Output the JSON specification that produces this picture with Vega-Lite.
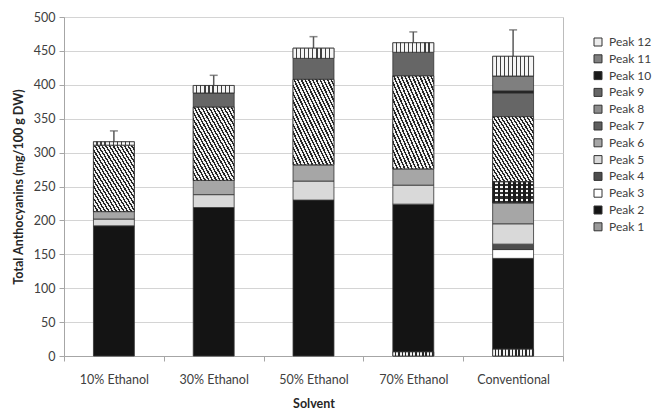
{
  "$schema": "https://vega.github.io/schema/vega-lite/v6.json",
  "width": 499,
  "height": 339,
  "autosize": {"type": "none"},
  "padding": {"left": 64, "top": 17, "right": 91, "bottom": 58},
  "background": "white",
  "config": {
    "font": "Lato",
    "view": {"stroke": "#bcbcbc", "strokeWidth": 1},
    "axis": {
      "labelFont": "Lato",
      "labelFontSize": 12.5,
      "labelColor": "#404040",
      "titleFont": "Lato",
      "titleFontSize": 12.5,
      "titleFontWeight": "bold",
      "titleColor": "#262626",
      "domainColor": "#a6a6a6",
      "tickColor": "#a6a6a6",
      "tickSize": 5
    },
    "axisY": {
      "labelOverlap": false,
      "grid": true,
      "gridColor": "#d4d4d4",
      "labelPadding": 4,
      "titlePadding": 8,
      "tickCount": 20
    },
    "legend": {
      "orient": "none",
      "legendX": 528,
      "legendY": 19,
      "padding": 0,
      "symbolType": "square",
      "symbolSize": 64,
      "symbolStrokeColor": "#333333",
      "symbolStrokeWidth": 1,
      "symbolOpacity": 1,
      "labelFont": "Lato",
      "labelFontSize": 12,
      "labelColor": "#404040",
      "labelOffset": 5,
      "rowPadding": 4.8
    }
  },
  "datasets": {
    "segments": [
      {"solvent": "10% Ethanol", "peak": 2, "value": 192},
      {"solvent": "10% Ethanol", "peak": 5, "value": 10},
      {"solvent": "10% Ethanol", "peak": 6, "value": 11},
      {"solvent": "10% Ethanol", "peak": 8, "value": 98},
      {"solvent": "10% Ethanol", "peak": 12, "value": 5},
      {"solvent": "30% Ethanol", "peak": 2, "value": 219},
      {"solvent": "30% Ethanol", "peak": 5, "value": 19},
      {"solvent": "30% Ethanol", "peak": 6, "value": 21},
      {"solvent": "30% Ethanol", "peak": 8, "value": 108},
      {"solvent": "30% Ethanol", "peak": 9, "value": 21},
      {"solvent": "30% Ethanol", "peak": 12, "value": 11},
      {"solvent": "50% Ethanol", "peak": 2, "value": 230},
      {"solvent": "50% Ethanol", "peak": 5, "value": 28},
      {"solvent": "50% Ethanol", "peak": 6, "value": 24},
      {"solvent": "50% Ethanol", "peak": 8, "value": 126},
      {"solvent": "50% Ethanol", "peak": 9, "value": 31},
      {"solvent": "50% Ethanol", "peak": 12, "value": 15},
      {"solvent": "70% Ethanol", "peak": 1, "value": 6},
      {"solvent": "70% Ethanol", "peak": 2, "value": 218},
      {"solvent": "70% Ethanol", "peak": 5, "value": 28},
      {"solvent": "70% Ethanol", "peak": 6, "value": 24},
      {"solvent": "70% Ethanol", "peak": 8, "value": 137},
      {"solvent": "70% Ethanol", "peak": 9, "value": 35},
      {"solvent": "70% Ethanol", "peak": 12, "value": 14},
      {"solvent": "Conventional", "peak": 1, "value": 10},
      {"solvent": "Conventional", "peak": 2, "value": 134},
      {"solvent": "Conventional", "peak": 3, "value": 13},
      {"solvent": "Conventional", "peak": 4, "value": 8},
      {"solvent": "Conventional", "peak": 5, "value": 30},
      {"solvent": "Conventional", "peak": 6, "value": 31},
      {"solvent": "Conventional", "peak": 7, "value": 31},
      {"solvent": "Conventional", "peak": 8, "value": 96},
      {"solvent": "Conventional", "peak": 9, "value": 35},
      {"solvent": "Conventional", "peak": 10, "value": 3},
      {"solvent": "Conventional", "peak": 11, "value": 22},
      {"solvent": "Conventional", "peak": 12, "value": 29}
    ],
    "errors": [
      {"solvent": "10% Ethanol", "total": 316, "upper": 332},
      {"solvent": "30% Ethanol", "total": 399, "upper": 414},
      {"solvent": "50% Ethanol", "total": 454, "upper": 471},
      {"solvent": "70% Ethanol", "total": 462, "upper": 478},
      {"solvent": "Conventional", "total": 442, "upper": 481}
    ]
  },
  "encoding": {
    "x": {
      "field": "solvent",
      "type": "nominal",
      "sort": ["10% Ethanol", "30% Ethanol", "50% Ethanol", "70% Ethanol", "Conventional"],
      "scale": {"paddingInner": 0, "paddingOuter": 0},
      "axis": {
        "title": "Solvent",
        "labelAngle": 0,
        "tickBand": "extent",
        "grid": false,
        "labelPadding": 12,
        "titlePadding": 12
      }
    }
  },
  "layer": [
    {
      "data": {"name": "errors"},
      "mark": {"type": "rule", "color": "#595959", "strokeWidth": 1.5},
      "encoding": {
        "y": {
          "field": "total",
          "type": "quantitative",
          "title": "Total Anthocyanins (mg/100 g DW)",
          "scale": {"domain": [0, 500], "nice": false},
          "axis": {"values": [0, 50, 100, 150, 200, 250, 300, 350, 400, 450, 500], "tickCount": 20}
        },
        "y2": {"field": "upper"}
      }
    },
    {
      "data": {"name": "errors"},
      "mark": {"type": "tick", "color": "#595959", "thickness": 1.5, "size": 8},
      "encoding": {
        "y": {
          "field": "upper",
          "type": "quantitative",
          "title": "Total Anthocyanins (mg/100 g DW)",
          "axis": {"values": [0, 50, 100, 150, 200, 250, 300, 350, 400, 450, 500], "tickCount": 20}
        }
      }
    },
    {
      "data": {"name": "segments"},
      "transform": [
        {
          "stack": "value",
          "groupby": ["solvent"],
          "sort": [{"field": "peak", "order": "ascending"}],
          "as": ["y0", "y1"]
        }
      ],
      "layer": [
        {
          "mark": {"type": "bar", "width": {"band": 0.41}, "stroke": "#333333", "strokeWidth": 0.8},
          "encoding": {
            "y": {
              "field": "y1",
              "type": "quantitative",
              "title": "Total Anthocyanins (mg/100 g DW)",
              "scale": {"domain": [0, 500], "nice": false},
              "axis": {"values": [0, 50, 100, 150, 200, 250, 300, 350, 400, 450, 500], "tickCount": 20}
            },
            "y2": {"field": "y0"},
            "color": {
              "field": "peak",
              "type": "ordinal",
              "scale": {
                "domain": [12, 11, 10, 9, 8, 7, 6, 5, 4, 3, 2, 1],
                "range": ["#ececec", "#7f7f7f", "#1a1a1a", "#666666", "#8c8c8c", "#5e5e5e", "#a6a6a6", "#d9d9d9", "#4d4d4d", "#ffffff", "#141414", "#9a9a9a"]
              },
              "legend": {"title": null, "labelExpr": "'Peak ' + datum.label"}
            }
          }
        },
        {
          "transform": [{"filter": "datum.peak === 8"}],
          "mark": {
            "type": "bar",
            "width": {"band": 0.41},
            "stroke": "#333333",
            "strokeWidth": 0.8,
            "fill": {
              "gradient": "linear",
              "x1": 0, "y1": 1, "x2": 1, "y2": 0,
              "stops": [
                {"offset": 0, "color": "#262626"}, {"offset": 0.02, "color": "#262626"}, {"offset": 0.02, "color": "#f2f2f2"}, {"offset": 0.0455, "color": "#f2f2f2"},
                {"offset": 0.0455, "color": "#262626"}, {"offset": 0.0655, "color": "#262626"}, {"offset": 0.0655, "color": "#f2f2f2"}, {"offset": 0.0909, "color": "#f2f2f2"},
                {"offset": 0.0909, "color": "#262626"}, {"offset": 0.1109, "color": "#262626"}, {"offset": 0.1109, "color": "#f2f2f2"}, {"offset": 0.1364, "color": "#f2f2f2"},
                {"offset": 0.1364, "color": "#262626"}, {"offset": 0.1564, "color": "#262626"}, {"offset": 0.1564, "color": "#f2f2f2"}, {"offset": 0.1818, "color": "#f2f2f2"},
                {"offset": 0.1818, "color": "#262626"}, {"offset": 0.2018, "color": "#262626"}, {"offset": 0.2018, "color": "#f2f2f2"}, {"offset": 0.2273, "color": "#f2f2f2"},
                {"offset": 0.2273, "color": "#262626"}, {"offset": 0.2473, "color": "#262626"}, {"offset": 0.2473, "color": "#f2f2f2"}, {"offset": 0.2727, "color": "#f2f2f2"},
                {"offset": 0.2727, "color": "#262626"}, {"offset": 0.2927, "color": "#262626"}, {"offset": 0.2927, "color": "#f2f2f2"}, {"offset": 0.3182, "color": "#f2f2f2"},
                {"offset": 0.3182, "color": "#262626"}, {"offset": 0.3382, "color": "#262626"}, {"offset": 0.3382, "color": "#f2f2f2"}, {"offset": 0.3636, "color": "#f2f2f2"},
                {"offset": 0.3636, "color": "#262626"}, {"offset": 0.3836, "color": "#262626"}, {"offset": 0.3836, "color": "#f2f2f2"}, {"offset": 0.4091, "color": "#f2f2f2"},
                {"offset": 0.4091, "color": "#262626"}, {"offset": 0.4291, "color": "#262626"}, {"offset": 0.4291, "color": "#f2f2f2"}, {"offset": 0.4545, "color": "#f2f2f2"},
                {"offset": 0.4545, "color": "#262626"}, {"offset": 0.4745, "color": "#262626"}, {"offset": 0.4745, "color": "#f2f2f2"}, {"offset": 0.5, "color": "#f2f2f2"},
                {"offset": 0.5, "color": "#262626"}, {"offset": 0.52, "color": "#262626"}, {"offset": 0.52, "color": "#f2f2f2"}, {"offset": 0.5455, "color": "#f2f2f2"},
                {"offset": 0.5455, "color": "#262626"}, {"offset": 0.5655, "color": "#262626"}, {"offset": 0.5655, "color": "#f2f2f2"}, {"offset": 0.5909, "color": "#f2f2f2"},
                {"offset": 0.5909, "color": "#262626"}, {"offset": 0.6109, "color": "#262626"}, {"offset": 0.6109, "color": "#f2f2f2"}, {"offset": 0.6364, "color": "#f2f2f2"},
                {"offset": 0.6364, "color": "#262626"}, {"offset": 0.6564, "color": "#262626"}, {"offset": 0.6564, "color": "#f2f2f2"}, {"offset": 0.6818, "color": "#f2f2f2"},
                {"offset": 0.6818, "color": "#262626"}, {"offset": 0.7018, "color": "#262626"}, {"offset": 0.7018, "color": "#f2f2f2"}, {"offset": 0.7273, "color": "#f2f2f2"},
                {"offset": 0.7273, "color": "#262626"}, {"offset": 0.7473, "color": "#262626"}, {"offset": 0.7473, "color": "#f2f2f2"}, {"offset": 0.7727, "color": "#f2f2f2"},
                {"offset": 0.7727, "color": "#262626"}, {"offset": 0.7927, "color": "#262626"}, {"offset": 0.7927, "color": "#f2f2f2"}, {"offset": 0.8182, "color": "#f2f2f2"},
                {"offset": 0.8182, "color": "#262626"}, {"offset": 0.8382, "color": "#262626"}, {"offset": 0.8382, "color": "#f2f2f2"}, {"offset": 0.8636, "color": "#f2f2f2"},
                {"offset": 0.8636, "color": "#262626"}, {"offset": 0.8836, "color": "#262626"}, {"offset": 0.8836, "color": "#f2f2f2"}, {"offset": 0.9091, "color": "#f2f2f2"},
                {"offset": 0.9091, "color": "#262626"}, {"offset": 0.9291, "color": "#262626"}, {"offset": 0.9291, "color": "#f2f2f2"}, {"offset": 0.9545, "color": "#f2f2f2"},
                {"offset": 0.9545, "color": "#262626"}, {"offset": 0.9745, "color": "#262626"}, {"offset": 0.9745, "color": "#f2f2f2"}, {"offset": 1, "color": "#f2f2f2"}
              ]
            }
          },
          "encoding": {
            "y": {
              "field": "y1",
              "type": "quantitative",
              "title": "Total Anthocyanins (mg/100 g DW)",
              "axis": {"values": [0, 50, 100, 150, 200, 250, 300, 350, 400, 450, 500], "tickCount": 20}
            },
            "y2": {"field": "y0"}
          }
        },
        {
          "transform": [{"filter": "datum.peak === 1"}],
          "mark": {
            "type": "bar",
            "width": {"band": 0.41},
            "stroke": "#333333",
            "strokeWidth": 0.8,
            "fill": {
              "gradient": "linear",
              "x1": 0, "y1": 0, "x2": 1, "y2": 0,
              "stops": [
                {"offset": 0, "color": "#f2f2f2"}, {"offset": 0.048, "color": "#f2f2f2"}, {"offset": 0.048, "color": "#262626"}, {"offset": 0.0833, "color": "#262626"},
                {"offset": 0.0833, "color": "#f2f2f2"}, {"offset": 0.1313, "color": "#f2f2f2"}, {"offset": 0.1313, "color": "#262626"}, {"offset": 0.1667, "color": "#262626"},
                {"offset": 0.1667, "color": "#f2f2f2"}, {"offset": 0.2147, "color": "#f2f2f2"}, {"offset": 0.2147, "color": "#262626"}, {"offset": 0.25, "color": "#262626"},
                {"offset": 0.25, "color": "#f2f2f2"}, {"offset": 0.298, "color": "#f2f2f2"}, {"offset": 0.298, "color": "#262626"}, {"offset": 0.3333, "color": "#262626"},
                {"offset": 0.3333, "color": "#f2f2f2"}, {"offset": 0.3813, "color": "#f2f2f2"}, {"offset": 0.3813, "color": "#262626"}, {"offset": 0.4167, "color": "#262626"},
                {"offset": 0.4167, "color": "#f2f2f2"}, {"offset": 0.4647, "color": "#f2f2f2"}, {"offset": 0.4647, "color": "#262626"}, {"offset": 0.5, "color": "#262626"},
                {"offset": 0.5, "color": "#f2f2f2"}, {"offset": 0.548, "color": "#f2f2f2"}, {"offset": 0.548, "color": "#262626"}, {"offset": 0.5833, "color": "#262626"},
                {"offset": 0.5833, "color": "#f2f2f2"}, {"offset": 0.6313, "color": "#f2f2f2"}, {"offset": 0.6313, "color": "#262626"}, {"offset": 0.6667, "color": "#262626"},
                {"offset": 0.6667, "color": "#f2f2f2"}, {"offset": 0.7147, "color": "#f2f2f2"}, {"offset": 0.7147, "color": "#262626"}, {"offset": 0.75, "color": "#262626"},
                {"offset": 0.75, "color": "#f2f2f2"}, {"offset": 0.798, "color": "#f2f2f2"}, {"offset": 0.798, "color": "#262626"}, {"offset": 0.8333, "color": "#262626"},
                {"offset": 0.8333, "color": "#f2f2f2"}, {"offset": 0.8813, "color": "#f2f2f2"}, {"offset": 0.8813, "color": "#262626"}, {"offset": 0.9167, "color": "#262626"},
                {"offset": 0.9167, "color": "#f2f2f2"}, {"offset": 0.9647, "color": "#f2f2f2"}, {"offset": 0.9647, "color": "#262626"}, {"offset": 1, "color": "#262626"}
              ]
            }
          },
          "encoding": {
            "y": {
              "field": "y1",
              "type": "quantitative",
              "title": "Total Anthocyanins (mg/100 g DW)",
              "axis": {"values": [0, 50, 100, 150, 200, 250, 300, 350, 400, 450, 500], "tickCount": 20}
            },
            "y2": {"field": "y0"}
          }
        },
        {
          "transform": [{"filter": "datum.peak === 12"}],
          "mark": {
            "type": "bar",
            "width": {"band": 0.41},
            "stroke": "#333333",
            "strokeWidth": 0.8,
            "fill": {
              "gradient": "linear",
              "x1": 0, "y1": 0, "x2": 1, "y2": 0,
              "stops": [
                {"offset": 0, "color": "#f5f5f5"}, {"offset": 0.07, "color": "#f5f5f5"}, {"offset": 0.07, "color": "#404040"}, {"offset": 0.1, "color": "#404040"},
                {"offset": 0.1, "color": "#f5f5f5"}, {"offset": 0.17, "color": "#f5f5f5"}, {"offset": 0.17, "color": "#404040"}, {"offset": 0.2, "color": "#404040"},
                {"offset": 0.2, "color": "#f5f5f5"}, {"offset": 0.27, "color": "#f5f5f5"}, {"offset": 0.27, "color": "#404040"}, {"offset": 0.3, "color": "#404040"},
                {"offset": 0.3, "color": "#f5f5f5"}, {"offset": 0.37, "color": "#f5f5f5"}, {"offset": 0.37, "color": "#404040"}, {"offset": 0.4, "color": "#404040"},
                {"offset": 0.4, "color": "#f5f5f5"}, {"offset": 0.47, "color": "#f5f5f5"}, {"offset": 0.47, "color": "#404040"}, {"offset": 0.5, "color": "#404040"},
                {"offset": 0.5, "color": "#f5f5f5"}, {"offset": 0.57, "color": "#f5f5f5"}, {"offset": 0.57, "color": "#404040"}, {"offset": 0.6, "color": "#404040"},
                {"offset": 0.6, "color": "#f5f5f5"}, {"offset": 0.67, "color": "#f5f5f5"}, {"offset": 0.67, "color": "#404040"}, {"offset": 0.7, "color": "#404040"},
                {"offset": 0.7, "color": "#f5f5f5"}, {"offset": 0.77, "color": "#f5f5f5"}, {"offset": 0.77, "color": "#404040"}, {"offset": 0.8, "color": "#404040"},
                {"offset": 0.8, "color": "#f5f5f5"}, {"offset": 0.87, "color": "#f5f5f5"}, {"offset": 0.87, "color": "#404040"}, {"offset": 0.9, "color": "#404040"},
                {"offset": 0.9, "color": "#f5f5f5"}, {"offset": 1, "color": "#f5f5f5"}
              ]
            }
          },
          "encoding": {
            "y": {
              "field": "y1",
              "type": "quantitative",
              "title": "Total Anthocyanins (mg/100 g DW)",
              "axis": {"values": [0, 50, 100, 150, 200, 250, 300, 350, 400, 450, 500], "tickCount": 20}
            },
            "y2": {"field": "y0"}
          }
        },
        {
          "transform": [{"filter": "datum.peak === 7"}],
          "mark": {
            "type": "bar",
            "width": {"band": 0.41},
            "stroke": "#333333",
            "strokeWidth": 0.8,
            "fill": {
              "gradient": "linear",
              "x1": 0, "y1": 0, "x2": 1, "y2": 0,
              "stops": [
                {"offset": 0, "color": "#1a1a1a"}, {"offset": 0.0625, "color": "#1a1a1a"}, {"offset": 0.0625, "color": "#f5f5f5"}, {"offset": 0.125, "color": "#f5f5f5"},
                {"offset": 0.125, "color": "#1a1a1a"}, {"offset": 0.1875, "color": "#1a1a1a"}, {"offset": 0.1875, "color": "#f5f5f5"}, {"offset": 0.25, "color": "#f5f5f5"},
                {"offset": 0.25, "color": "#1a1a1a"}, {"offset": 0.3125, "color": "#1a1a1a"}, {"offset": 0.3125, "color": "#f5f5f5"}, {"offset": 0.375, "color": "#f5f5f5"},
                {"offset": 0.375, "color": "#1a1a1a"}, {"offset": 0.4375, "color": "#1a1a1a"}, {"offset": 0.4375, "color": "#f5f5f5"}, {"offset": 0.5, "color": "#f5f5f5"},
                {"offset": 0.5, "color": "#1a1a1a"}, {"offset": 0.5625, "color": "#1a1a1a"}, {"offset": 0.5625, "color": "#f5f5f5"}, {"offset": 0.625, "color": "#f5f5f5"},
                {"offset": 0.625, "color": "#1a1a1a"}, {"offset": 0.6875, "color": "#1a1a1a"}, {"offset": 0.6875, "color": "#f5f5f5"}, {"offset": 0.75, "color": "#f5f5f5"},
                {"offset": 0.75, "color": "#1a1a1a"}, {"offset": 0.8125, "color": "#1a1a1a"}, {"offset": 0.8125, "color": "#f5f5f5"}, {"offset": 0.875, "color": "#f5f5f5"},
                {"offset": 0.875, "color": "#1a1a1a"}, {"offset": 0.9375, "color": "#1a1a1a"}, {"offset": 0.9375, "color": "#f5f5f5"}, {"offset": 1, "color": "#f5f5f5"}
              ]
            }
          },
          "encoding": {
            "y": {
              "field": "y1",
              "type": "quantitative",
              "title": "Total Anthocyanins (mg/100 g DW)",
              "axis": {"values": [0, 50, 100, 150, 200, 250, 300, 350, 400, 450, 500], "tickCount": 20}
            },
            "y2": {"field": "y0"}
          }
        },
        {
          "transform": [{"filter": "datum.peak === 7"}],
          "mark": {
            "type": "bar",
            "width": {"band": 0.41},
            "stroke": "#333333",
            "strokeWidth": 0.8,
            "fill": {
              "gradient": "linear",
              "x1": 0, "y1": 0, "x2": 0, "y2": 1,
              "stops": [
                {"offset": 0, "color": "rgba(26,26,26,0)"}, {"offset": 0.1, "color": "rgba(26,26,26,0)"}, {"offset": 0.1, "color": "rgba(26,26,26,0.9)"}, {"offset": 0.2, "color": "rgba(26,26,26,0.9)"},
                {"offset": 0.2, "color": "rgba(26,26,26,0)"}, {"offset": 0.3, "color": "rgba(26,26,26,0)"}, {"offset": 0.3, "color": "rgba(26,26,26,0.9)"}, {"offset": 0.4, "color": "rgba(26,26,26,0.9)"},
                {"offset": 0.4, "color": "rgba(26,26,26,0)"}, {"offset": 0.5, "color": "rgba(26,26,26,0)"}, {"offset": 0.5, "color": "rgba(26,26,26,0.9)"}, {"offset": 0.6, "color": "rgba(26,26,26,0.9)"},
                {"offset": 0.6, "color": "rgba(26,26,26,0)"}, {"offset": 0.7, "color": "rgba(26,26,26,0)"}, {"offset": 0.7, "color": "rgba(26,26,26,0.9)"}, {"offset": 0.8, "color": "rgba(26,26,26,0.9)"},
                {"offset": 0.8, "color": "rgba(26,26,26,0)"}, {"offset": 0.9, "color": "rgba(26,26,26,0)"}, {"offset": 0.9, "color": "rgba(26,26,26,0.9)"}, {"offset": 1, "color": "rgba(26,26,26,0.9)"}
              ]
            }
          },
          "encoding": {
            "y": {
              "field": "y1",
              "type": "quantitative",
              "title": "Total Anthocyanins (mg/100 g DW)",
              "axis": {"values": [0, 50, 100, 150, 200, 250, 300, 350, 400, 450, 500], "tickCount": 20}
            },
            "y2": {"field": "y0"}
          }
        }
      ]
    }
  ]
}
